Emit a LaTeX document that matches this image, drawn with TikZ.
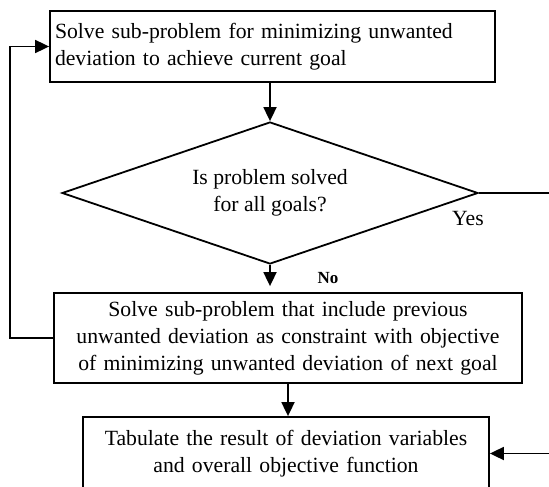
\documentclass[tikz,border=0pt]{standalone}
\usepackage{fontspec}
\setmainfont{Liberation Serif}
\usetikzlibrary{shapes.geometric,arrows.meta}
\begin{document}
\begin{tikzpicture}[x=1pt,y=-1pt,
  line width=1.8pt,
  txt/.style={font=\fontsize{21.7}{27}\selectfont},
  box/.style={draw,rectangle,txt,inner sep=5pt},
  dec/.style={draw,diamond,txt,align=center,inner sep=0pt,aspect=2.93},
  arr/.style={-{Triangle[length=14pt,width=13pt]}}]
\path[use as bounding box,clip] (0,0) rectangle (549,487);
\node[box,text width=435pt,align=left,minimum height=71pt] (b1) at (272.5,46.5) {Solve sub-problem for minimizing unwanted\\deviation to achieve current goal};
\node[dec,minimum width=416pt,minimum height=142pt] (d) at (270,193) {Is problem solved\\for all goals?};
\node[box,text width=458pt,align=center,minimum height=90pt] (b2) at (288,338) {Solve sub-problem that include previous\\unwanted deviation as constraint with objective\\of minimizing unwanted deviation of next goal};
\node[box,text width=396pt,align=center,minimum height=73pt] (b3) at (286,453.5) {Tabulate the result of deviation variables\\and overall objective function};
\node[txt,inner sep=0pt] (yes) at (468,218) {Yes};
\node[font=\fontsize{17}{20}\selectfont\bfseries,inner sep=0pt] (no) at (328,278) {No};
\coordinate (r1) at (560,193);
\coordinate (r2) at (560,453.5);
\coordinate (l1) at (10,338);
\draw[arr] (d.north |- b1.south) -- (d.north);
\draw[arr,shorten >=6pt] (d.south) -- (d.south |- b2.north);
\draw[arr] (b2.south) -- (b2.south |- b3.north);
\draw[arr] (b2.west) -- (l1) |- (b1.west);
\draw (d.east) -- (r1);
\draw[arr] (r2) -- (b3.east);
\end{tikzpicture}
\end{document}
